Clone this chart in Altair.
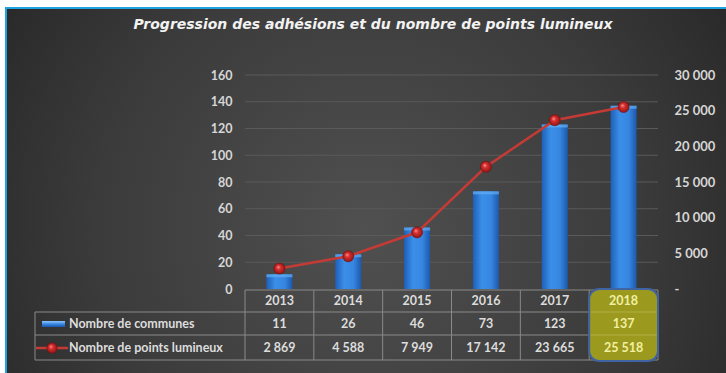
import altair as alt
import pandas as pd

# ---- data -------------------------------------------------------------
years = ["2013", "2014", "2015", "2016", "2017", "2018"]
communes = [11, 26, 46, 73, 123, 137]
points_lumineux = [2869, 4588, 7949, 17142, 23665, 25518]
series_names = ["Nombre de communes", "Nombre de points lumineux"]
title_text = "Progression des adhésions et du nombre de points lumineux"
left_ticks = [0, 20, 40, 60, 80, 100, 120, 140, 160]
right_ticks = [0, 5000, 10000, 15000, 20000, 25000, 30000]
highlight_year = "2018"

df = pd.DataFrame({"year": years, "communes": communes, "points": points_lumineux})
grid_df = pd.DataFrame({"v": left_ticks[1:]})

# ---- layout (pixels relative to the plot origin) ----------------------
W, H = 413, 214
PAD = {"left": 245, "top": 75, "right": 68, "bottom": 84}
TXT = "#dcdcdc"
LINE_RED = "#c43b36"
TABLE_LINE = "#8a8a8a"
FONT = "Lato"

x_enc = alt.X("year:N", scale=alt.Scale(paddingInner=0, paddingOuter=0), axis=None)
y_left = alt.Scale(domain=[0, 160])
y_right = alt.Scale(domain=[0, 30000])

space_fmt = "replace(format({v}, ','), ',', ' ')"

one = pd.DataFrame({"k": [0]})

# background: white page, cyan frame, dark radial panel
page = alt.Chart(one).mark_rect(fill="#ffffff").encode(
    x=alt.value(-PAD["left"]), x2=alt.value(W + PAD["right"]),
    y=alt.value(-PAD["top"]), y2=alt.value(H + PAD["bottom"]))
frame = alt.Chart(one).mark_rect(fill="#1fa3e0").encode(
    x=alt.value(-PAD["left"] + 5), x2=alt.value(W + PAD["right"]),
    y=alt.value(-PAD["top"] + 7), y2=alt.value(H + PAD["bottom"]))
panel = alt.Chart(one).mark_rect(
    fill=alt.Gradient(
        gradient="radial", x1=0.5, y1=0.55, r1=0, x2=0.5, y2=0.55, r2=0.75,
        stops=[alt.GradientStop(color="#505050", offset=0),
               alt.GradientStop(color="#3b3b3b", offset=0.5),
               alt.GradientStop(color="#1c1c1c", offset=1)])
).encode(
    x=alt.value(-PAD["left"] + 7), x2=alt.value(W + PAD["right"]),
    y=alt.value(-PAD["top"] + 9), y2=alt.value(H + PAD["bottom"]))

title = alt.Chart(pd.DataFrame({"t": [title_text]})).mark_text(
    font="DejaVu Sans", fontSize=14, fontWeight="bold", fontStyle="italic",
    color="#f2f2f2", align="center", baseline="middle"
).encode(text="t:N", x=alt.value(128), y=alt.value(-50))

grid = alt.Chart(grid_df).mark_rule(color="#5a5a5a", strokeWidth=1).encode(
    y=alt.Y("v:Q", scale=y_left, axis=None),
    x=alt.value(0), x2=alt.value(W))

bars = alt.Chart(df).mark_bar(
    size=26,
    fill=alt.Gradient(
        gradient="linear", x1=0, y1=0, x2=1, y2=0,
        stops=[alt.GradientStop(color="#1e5fb8", offset=0),
               alt.GradientStop(color="#3b8fe8", offset=0.35),
               alt.GradientStop(color="#3686e0", offset=0.7),
               alt.GradientStop(color="#1c58ad", offset=1)])
).encode(
    x=x_enc,
    y=alt.Y("communes:Q", scale=y_left,
            axis=alt.Axis(orient="left", values=left_ticks, title=None,
                          labelPadding=13, zindex=1)))

# lighter cap on top of each bar
caps = alt.Chart(df).mark_tick(
    size=26, thickness=3, orient="horizontal", yOffset=1.5,
    color="#62aef5").encode(
    x=x_enc, y=alt.Y("communes:Q", scale=y_left, axis=None))

line = alt.Chart(df).mark_line(color=LINE_RED, strokeWidth=2.5).encode(
    x=x_enc,
    y=alt.Y("points:Q", scale=y_right,
            axis=alt.Axis(orient="right", values=right_ticks, title=None,
                          labelPadding=16, zindex=1, labelFontSize=13,
                          labelExpr="datum.value == 0 ? '-' : " + space_fmt.format(v="datum.value"))))

sphere = alt.Gradient(
    gradient="radial", x1=0.38, y1=0.35, r1=0, x2=0.5, y2=0.5, r2=0.55,
    stops=[alt.GradientStop(color="#ff9c9c", offset=0),
           alt.GradientStop(color="#d83030", offset=0.35),
           alt.GradientStop(color="#8a1212", offset=1)])

dots = alt.Chart(df).mark_point(
    filled=True, shape="circle", size=125, fill=sphere, opacity=1,
    stroke="#6e0e0e", strokeWidth=0.5
).encode(x=x_enc, y=alt.Y("points:Q", scale=y_right, axis=None))

# ---- data table under the plot ----------------------------------------
ROW_TOP, ROW1, ROW2, ROW_BOT = 215, 237, 260, 285
LEG_X = -210

hline_rows = [
    alt.Chart(one).mark_rule(color=TABLE_LINE, strokeWidth=1).encode(
        x=alt.value(LEG_X), x2=alt.value(W), y=alt.value(yy))
    for yy in (ROW1, ROW2, ROW_BOT)
]
hline_top = alt.Chart(one).mark_rule(color=TABLE_LINE, strokeWidth=1).encode(
    x=alt.value(0), x2=alt.value(W), y=alt.value(ROW_TOP))
vlines = alt.Chart(df).mark_rule(color=TABLE_LINE, strokeWidth=1).encode(
    x=alt.X("year:N", bandPosition=0, scale=alt.Scale(paddingInner=0, paddingOuter=0), axis=None),
    y=alt.value(ROW_TOP), y2=alt.value(ROW_BOT))
vline_end = alt.Chart(one).mark_rule(color=TABLE_LINE, strokeWidth=1).encode(
    x=alt.value(W), y=alt.value(ROW_TOP), y2=alt.value(ROW_BOT))
vline_leg = alt.Chart(one).mark_rule(color=TABLE_LINE, strokeWidth=1).encode(
    x=alt.value(LEG_X), y=alt.value(ROW1), y2=alt.value(ROW_BOT))

highlight = alt.Chart(df).transform_filter(
    alt.datum.year == highlight_year
).mark_rect(fill="#9b9a1f", stroke="#3f63a3", strokeWidth=2, cornerRadius=10).encode(
    x=x_enc, y=alt.value(ROW_TOP - 1), y2=alt.value(ROW_BOT + 1))
hl_seps = [
    alt.Chart(df).transform_filter(alt.datum.year == highlight_year).mark_tick(
        color="#bdbb55", thickness=1, size=66, orient="horizontal").encode(
        x=x_enc, y=alt.value(yy))
    for yy in (ROW1, ROW2)
]

cell_color = alt.condition(alt.datum.year == highlight_year,
                           alt.value("#f2f0a0"), alt.value(TXT))

def row_text(field, y, calc=None):
    base = alt.Chart(df)
    if calc:
        base = base.transform_calculate(lbl=calc)
        field = "lbl"
    return base.mark_text(font=FONT, fontSize=12.5, fontWeight="bold",
                          align="center", baseline="middle").encode(
        x=x_enc, y=alt.value(y), text=alt.Text(f"{field}:N"), color=cell_color)

t_year = row_text("year", 226)
t_comm = row_text("communes", 249)
t_pts = row_text("points", 273, calc=space_fmt.format(v="datum.points"))

leg_names = [
    alt.Chart(pd.DataFrame({"n": [series_names[i]]})).mark_text(
        font=FONT, fontSize=12.5, fontWeight="bold", color=TXT,
        align="left", baseline="middle").encode(
        text="n:N", x=alt.value(-176), y=alt.value(yy))
    for i, yy in enumerate((249, 273))
]
leg_bar = alt.Chart(one).mark_rect(
    fill=alt.Gradient(gradient="linear", x1=0, y1=0, x2=0, y2=1,
                      stops=[alt.GradientStop(color="#8cc4ff", offset=0),
                             alt.GradientStop(color="#2f7ddc", offset=0.6),
                             alt.GradientStop(color="#1d56a8", offset=1)])
).encode(x=alt.value(-203), x2=alt.value(-180), y=alt.value(246), y2=alt.value(252))
leg_line = alt.Chart(one).mark_rule(color=LINE_RED, strokeWidth=2.5).encode(
    x=alt.value(-209), x2=alt.value(-177), y=alt.value(273))
leg_dot = alt.Chart(one).mark_point(
    filled=True, shape="circle", size=110, fill=sphere, opacity=1,
    stroke="#6e0e0e", strokeWidth=0.5).encode(x=alt.value(-193), y=alt.value(273))

chart = alt.layer(
    page, frame, panel, title, grid, bars, caps, line, dots,
    hline_top, *hline_rows, vlines, vline_end, vline_leg,
    highlight, *hl_seps,
    t_year, t_comm, t_pts, *leg_names, leg_bar, leg_line, leg_dot,
).resolve_scale(y="independent").properties(
    width=W, height=H,
    autosize=alt.AutoSizeParams(type="none"),
    padding=PAD,
    background="#ffffff",
).configure_view(stroke=None).configure_axis(
    domain=False, ticks=False, grid=False,
    labelFont=FONT, labelFontSize=12.5, labelFontWeight="bold", labelColor="#d6d6d6",
)

chart.save("out.html", embed_options={"renderer": "svg", "actions": False})
